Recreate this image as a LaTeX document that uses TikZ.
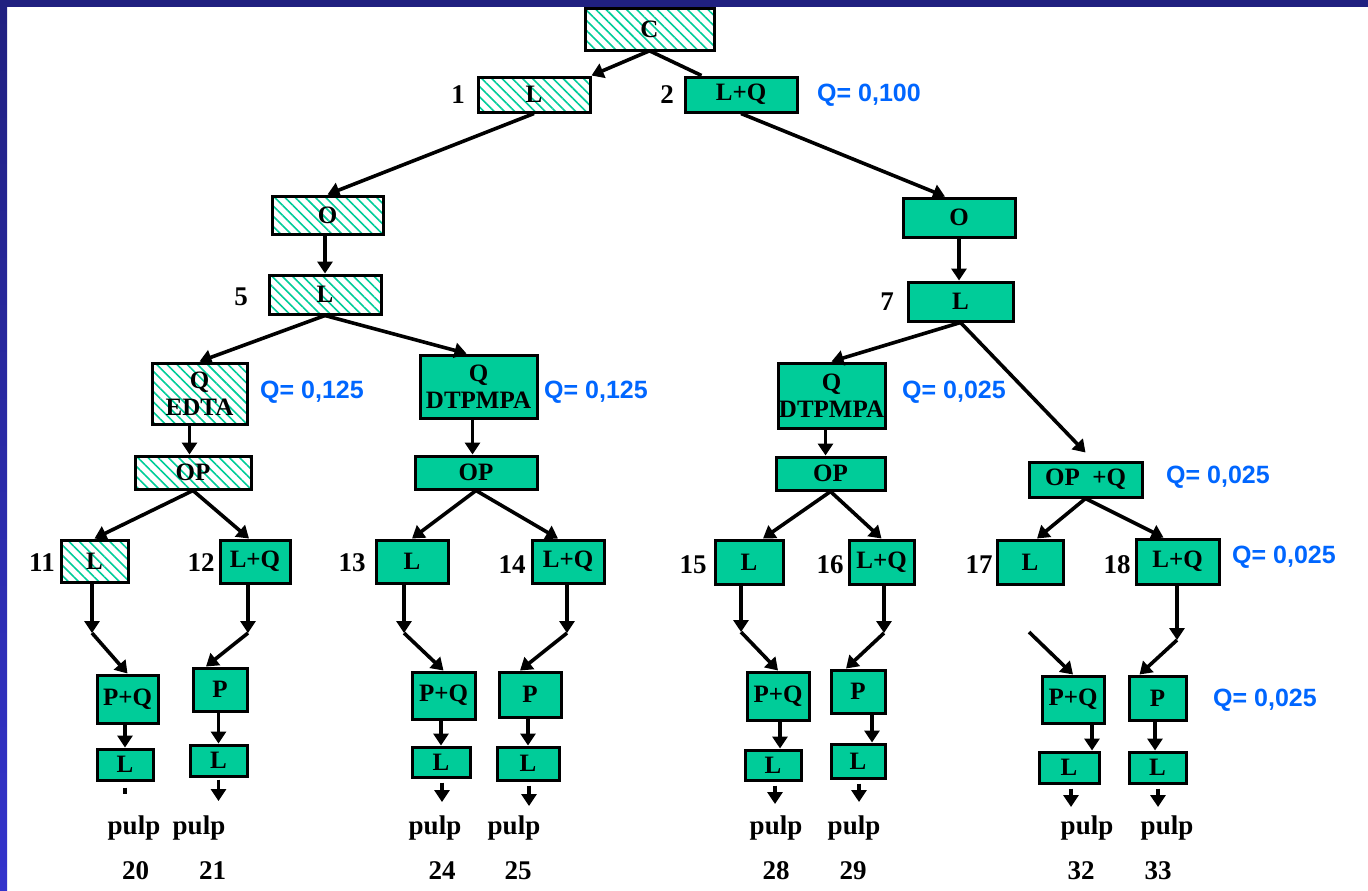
\documentclass[tikz,border=0pt]{standalone}
\usepackage{fontspec}
\setmainfont{Liberation Serif}
\newfontfamily\qfont{Liberation Sans}
\usetikzlibrary{arrows.meta,patterns.meta}

\definecolor{leaf}{RGB}{0,204,153}
\definecolor{qblue}{RGB}{0,102,255}
\definecolor{navy}{RGB}{32,32,128}
\definecolor{navylight}{RGB}{51,51,204}

\begin{document}
\begin{tikzpicture}[
  x=0.5pt, y=-0.5pt,
  >={Triangle[length=6pt,width=7.5pt]},
  box/.style={rectangle, draw, line width=1.5pt, inner sep=0pt, align=center,
    font=\bfseries\fontsize{12.5}{13.5}\selectfont},
  full/.style={box, fill=leaf},
  hatch/.style={box, pattern={Lines[angle=-45,distance=3.6pt,line width=0.8pt]}, pattern color=leaf},
  num/.style={font=\bfseries\fontsize{13.5}{13.5}\selectfont},
  qval/.style={text=qblue, font=\qfont\bfseries\fontsize{12.5}{12.5}\selectfont},
  tie/.style={->, line width=1.8pt}
]
\useasboundingbox (0,0) rectangle (1368,890);
% frame bars
\fill[navy] (0,0) rectangle (1368,7);
\shade[top color=navy, bottom color=navylight] (0,0) rectangle (7,890);

% upper levels
\node[hatch, minimum width=64.5pt, minimum height=21pt] (c) at (649.5,29) {C};
\node[hatch, minimum width=56pt, minimum height=17.5pt] (l1) at (534,94.5) {L};
\node[full, minimum width=56pt, minimum height=17.5pt] (lq2) at (741,94.5) {L+Q};
\node[hatch, minimum width=55.5pt, minimum height=19pt] (o3) at (327.5,215) {O};
\node[full, minimum width=56pt, minimum height=19.5pt] (o4) at (959,217.5) {O};
\node[hatch, minimum width=56pt, minimum height=19.5pt] (l5) at (325,294.5) {L};
\node[full, minimum width=52.5pt, minimum height=19.5pt] (l7) at (960.5,301.5) {L};

\node[hatch, minimum width=47.5pt, minimum height=30.5pt] (qedta) at (199.5,393.5) {Q\\EDTA};
\node[full, minimum width=58.5pt, minimum height=31.5pt] (qdtp1) at (478.5,386.5) {Q\\DTPMPA};
\node[full, minimum width=53.5pt, minimum height=32.5pt] (qdtp2) at (831.5,395.5) {Q\\DTPMPA};

\node[hatch, minimum width=58pt, minimum height=16.5pt] (op1) at (193,472.5) {OP};
\node[full, minimum width=61pt, minimum height=16.5pt] (op2) at (476,472.5) {OP};
\node[full, minimum width=54.5pt, minimum height=16.5pt] (op3) at (830.5,473.5) {OP};
\node[full, minimum width=56.5pt, minimum height=17.5pt] (opq) at (1085.5,479.5) {OP~~+Q};

% second split
\node[hatch, minimum width=33.5pt, minimum height=21pt] (l11) at (94.5,561) {L};
\node[full, minimum width=35pt, minimum height=21.5pt] (lq12) at (255,561.5) {L+Q};
\node[full, minimum width=36pt, minimum height=21.5pt] (l13) at (412,561.5) {L};
\node[full, minimum width=36pt, minimum height=21.5pt] (lq14) at (568,561.5) {L+Q};
\node[full, minimum width=34pt, minimum height=22pt] (l15) at (749,562) {L};
\node[full, minimum width=32.5pt, minimum height=22pt] (lq16) at (881.5,562) {L+Q};
\node[full, minimum width=33pt, minimum height=22pt] (l17) at (1030,562) {L};
\node[full, minimum width=41.5pt, minimum height=22.5pt] (lq18) at (1177.5,561.5) {L+Q};

\node[full, minimum width=30.5pt, minimum height=24pt] (pq20) at (127.5,699) {P+Q};
\node[full, minimum width=27pt, minimum height=21.5pt] (p21) at (220,689.5) {P};
\node[full, minimum width=31.5pt, minimum height=23.5pt] (pq24) at (443.5,695.5) {P+Q};
\node[full, minimum width=31pt, minimum height=22.5pt] (p25) at (530,694.5) {P};
\node[full, minimum width=31pt, minimum height=24pt] (pq28) at (778,696) {P+Q};
\node[full, minimum width=27pt, minimum height=21.5pt] (p29) at (858,691.5) {P};
\node[full, minimum width=31pt, minimum height=23.5pt] (pq32) at (1073,699.5) {P+Q};
\node[full, minimum width=28.5pt, minimum height=22pt] (p33) at (1157.5,698) {P};

\node[full, minimum width=28pt, minimum height=15.5pt] (l20) at (125,764.5) {L};
\node[full, minimum width=28.5pt, minimum height=15.5pt] (l21) at (218.5,760.5) {L};
\node[full, minimum width=29pt, minimum height=15pt] (l24) at (441,762) {L};
\node[full, minimum width=31pt, minimum height=16.5pt] (l25) at (528,763.5) {L};
\node[full, minimum width=28pt, minimum height=15pt] (l28) at (773,765) {L};
\node[full, minimum width=27pt, minimum height=17pt] (l29) at (858,761) {L};
\node[full, minimum width=30pt, minimum height=15.5pt] (l32) at (1069,767.5) {L};
\node[full, minimum width=28.5pt, minimum height=15.5pt] (l33) at (1157.5,767.5) {L};

% step numbers
\node[num] (n1) at (458,95) {1};
\node[num] (n2) at (667,95) {2};
\node[num] (n5) at (241,297) {5};
\node[num] (n7) at (887,302) {7};
\node[num] (n11) at (42,563) {11};
\node[num] (n12) at (201,563) {12};
\node[num] (n13) at (352,563) {13};
\node[num] (n14) at (512,565) {14};
\node[num] (n15) at (693,565) {15};
\node[num] (n16) at (830,565) {16};
\node[num] (n17) at (979,565) {17};
\node[num] (n18) at (1117,565) {18};

% Q values
\node[qval] (q2) at (869,95) {Q= 0,100};
\node[qval] (qa) at (312,392) {Q= 0,125};
\node[qval] (qb) at (596,392) {Q= 0,125};
\node[qval] (qc) at (954,392) {Q= 0,025};
\node[qval] (qd) at (1218,477) {Q= 0,025};
\node[qval] (qe) at (1284,557) {Q= 0,025};
\node[qval] (qf) at (1265,700) {Q= 0,025};

% pulp outputs
\foreach \x/\n in {134/20, 199/21, 435/24, 514/25, 776/28, 854/29, 1087/32, 1167/33}
  \node[num] (pulp\n) at (\x,828) {pulp};
\foreach \x/\n in {135.5/20, 212.5/21, 442/24, 518/25, 776/28, 853/29, 1081/32, 1158/33}
  \node[num] (out\n) at (\x,871) {\n};

% bends above the P boxes
\coordinate (k20) at (92,633);
\coordinate (k21) at (248,633);
\coordinate (k24) at (404,633);
\coordinate (k25) at (567,633);
\coordinate (k28) at (741,632);
\coordinate (k29) at (884,633);
\coordinate (k32) at (1029,632);
\coordinate (k33) at (1177,640);

% ends of the pulp arrows
\coordinate (e21) at (218.5,801);
\coordinate (e24) at (442,802);
\coordinate (e25) at (529,806);
\coordinate (e28) at (775,804);
\coordinate (e29) at (859,802);
\coordinate (e32) at (1071,807);
\coordinate (e33) at (1158,807);

\draw[tie] (c.south) -- (l1.north east);
\draw[line width=1.8pt] (c.south) -- ([xshift=9pt]lq2.north west);
\draw[tie] (l1.south) -- (o3.north);
\draw[tie] (lq2.south) -- ([xshift=-7pt]o4.north);
\draw[tie] (o3.south -| l5.north) -- (l5.north);
\draw[tie] (o4.south) -- (o4.south |- l7.north);
\draw[tie] (l5.south) -- (qedta.north);
\draw[tie] (l5.south) -- ([xshift=-6pt]qdtp1.north);
\draw[tie] (l7.south) -- (qdtp2.north);
\draw[tie] (l7.south) -- ([yshift=4pt]opq.north);

\draw[tie] ([xshift=-5pt]qedta.south) -- ([xshift=-5pt]qedta.south |- op1.north);
\draw[tie] ([xshift=-3pt]qdtp1.south) -- ([xshift=-3pt]qdtp1.south |- op2.north);
\draw[tie] ([xshift=-3pt]qdtp2.south) -- ([xshift=-3pt]qdtp2.south |- op3.north);

\draw[tie] (op1.south) -- (l11.north);
\draw[tie] (op1.south) -- ([xshift=-3pt]lq12.north);
\draw[tie] (op2.south) -- (l13.north);
\draw[tie] (op2.south) -- ([xshift=-5pt]lq14.north);
\draw[tie] (op3.south) -- ([xshift=7pt]l15.north);
\draw[tie] (op3.south) -- (lq16.north);
\draw[tie] (opq.south) -- ([xshift=3.5pt]l17.north);
\draw[tie] (opq.south) -- ([xshift=-7pt]lq18.north);

\draw[tie] (l11.south -| k20) -- (k20);
\draw[tie] (k20) -- (pq20.north);
\draw[tie] (lq12.south -| k21) -- (k21);
\draw[tie] (k21) -- ([xshift=-7pt]p21.north);
\draw[tie] (l13.south -| k24) -- (k24);
\draw[tie] (k24) -- (pq24.north);
\draw[tie] (lq14.south -| k25) -- (k25);
\draw[tie] (k25) -- ([xshift=-5pt]p25.north);
\draw[tie] (l15.south -| k28) -- (k28);
\draw[tie] (k28) -- (pq28.north);
\draw[tie] (lq16.south -| k29) -- (k29);
\draw[tie] (k29) -- ([xshift=-6pt]p29.north);
\draw[tie] (k32) -- (pq32.north);
\draw[tie] (lq18.south -| k33) -- (k33);
\draw[tie] (k33) -- ([xshift=-9pt]p33.north);

\draw[tie] (pq20.south -| l20.north) -- (l20.north);
\draw[tie] (p21.south -| l21.north) -- (l21.north);
\draw[tie] (pq24.south -| l24.north) -- (l24.north);
\draw[tie] (p25.south -| l25.north) -- (l25.north);
\draw[tie] (pq28.south -| 780,0) -- (l28.north -| 780,0);
\draw[tie] (p29.south -| 872,0) -- (l29.north -| 872,0);
\draw[tie] (pq32.south -| 1092,0) -- (l32.north -| 1092,0);
\draw[tie] (p33.south -| 1155,0) -- (l33.north -| 1155,0);

\draw[line width=1.8pt] ([yshift=-3pt]l20.south) -- ([yshift=-6pt]l20.south);
\draw[tie] ([yshift=-1pt]l21.south -| e21) -- (e21);
\draw[tie] ([yshift=-2pt]l24.south -| e24) -- (e24);
\draw[tie] ([yshift=-2pt]l25.south -| e25) -- (e25);
\draw[tie] ([yshift=-2pt]l28.south -| e28) -- (e28);
\draw[tie] ([yshift=-2pt]l29.south -| e29) -- (e29);
\draw[tie] ([yshift=-2pt]l32.south -| e32) -- (e32);
\draw[tie] ([yshift=-2pt]l33.south -| e33) -- (e33);
\end{tikzpicture}
\end{document}
